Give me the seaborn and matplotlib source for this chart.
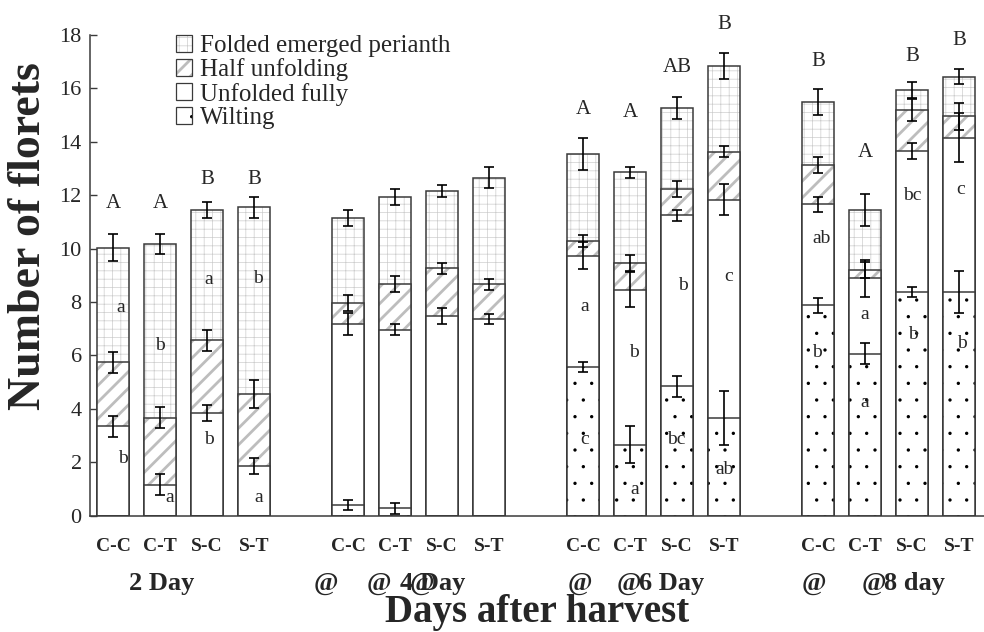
import matplotlib
matplotlib.use("Agg")
import matplotlib.pyplot as plt
from matplotlib.patches import Patch, Rectangle
import numpy as np
import pandas as pd
import seaborn as sns

treatments = ["C-C", "C-T", "S-C", "S-T"]
days = ["2 Day", "4 Day", "6 Day", "8 day"]

# segment heights (florets), bottom to top, bars ordered day by day
wilting = [0.0, 0.0, 0.0, 0.0, 0.40, 0.27, 0.0, 0.0,
           5.56, 2.66, 4.84, 3.66, 7.87, 6.06, 8.37, 8.37]
unfolded = [3.34, 1.16, 3.84, 1.87, 6.77, 6.69, 7.46, 7.36,
            4.18, 5.80, 6.40, 8.17, 3.79, 2.82, 5.29, 5.79]
half_unfolding = [2.40, 2.50, 2.72, 2.68, 0.78, 1.71, 1.80, 1.30,
                  0.53, 1.01, 1.00, 1.80, 1.48, 0.30, 1.53, 0.80]
folded = [4.30, 6.51, 4.89, 7.00, 3.20, 3.28, 2.90, 4.00,
          3.27, 3.38, 3.02, 3.21, 2.34, 2.27, 0.75, 1.48]

# error bars at the top of each segment
wilting_err = [0, 0, 0, 0, 0.20, 0.20, 0, 0,
               0.20, 0.71, 0.40, 1.00, 0.29, 0.39, 0.19, 0.80]
unfolded_err = [0.39, 0.40, 0.31, 0.30, 0.42, 0.20, 0.30, 0.20,
                0.50, 0.65, 0.19, 0.59, 0.29, 0.71, 0.30, 0.90]
half_err = [0.39, 0.40, 0.40, 0.51, 0.30, 0.30, 0.20, 0.20,
            0.22, 0.30, 0.30, 0.20, 0.30, 0.30, 0.40, 0.50]
folded_err = [0.50, 0.39, 0.31, 0.40, 0.31, 0.30, 0.21, 0.40,
              0.60, 0.20, 0.40, 0.50, 0.49, 0.60, 0.29, 0.29]

# significance letters above bars and their heights
top_letters = ["A", "A", "B", "B", "", "", "", "",
               "A", "A", "AB", "B", "B", "A", "B", "B"]
top_letter_y = [11.7, 11.7, 12.6, 12.6, 0, 0, 0, 0,
                15.2, 15.1, 16.8, 18.4, 17.0, 13.6, 17.2, 17.8]

# letters inside segments: (bar, letter, height, x shift)
inner_letters = [
    (0, "a", 7.78, 0.17), (0, "b", 2.13, 0.21),
    (1, "b", 6.36, 0.0), (1, "a", 0.67, 0.21),
    (2, "a", 8.83, 0.04), (2, "b", 2.84, 0.04),
    (3, "b", 8.87, 0.09), (3, "a", 0.67, 0.09),
    (8, "a", 7.83, 0.04), (8, "c", 2.84, 0.04),
    (9, "b", 6.10, 0.09), (9, "a", 0.97, 0.09),
    (10, "b", 8.61, 0.12), (10, "bc", 2.84, -0.01),
    (11, "c", 8.94, 0.10), (11, "ab", 1.72, 0.02),
    (12, "ab", 10.39, 0.08), (12, "b", 6.10, -0.02),
    (13, "a", 7.52, 0.0), (13, "a", 4.24, 0.0),
    (14, "bc", 11.98, 0.01), (14, "b", 6.77, 0.02),
    (15, "c", 12.20, 0.04), (15, "b", 6.44, 0.06),
]

sns.set_style("ticks")
plt.rcParams["font.family"] = ["Liberation Serif", "DejaVu Serif"]

df = pd.DataFrame({
    "day": np.repeat(days, 4),
    "treatment": treatments * 4,
    "pos": [g * 5 + i for g in range(4) for i in range(4)],
})
df["wilting_top"] = np.array(wilting)
df["unfolded_top"] = df["wilting_top"] + np.array(unfolded)
df["half_top"] = df["unfolded_top"] + np.array(half_unfolding)
df["folded_top"] = df["half_top"] + np.array(folded)

fig = plt.figure(figsize=(9.84, 6.32), dpi=100)
ax = fig.add_axes([0.0915, 0.1843, 0.9085, 0.7603])

edge = "#3a3a3a"
layers = [
    ("Folded emerged perianth", "folded_top", "++", "#cdcdcd", 0.5, folded_err),
    ("Half unfolding", "half_top", "//", "#bdbdbd", 2.0, half_err),
    ("Unfolded fully", "unfolded_top", "", "white", 0.5, unfolded_err),
    ("Wilting", "wilting_top", ".", "black", 0.0, wilting_err),
]
hatch_widths = {l[2]: l[4] for l in layers}


def set_hatch_width(patch, width):
    plt.rcParams["hatch.linewidth"] = width
    if hasattr(patch, "set_hatch_linewidth"):
        patch.set_hatch_linewidth(width)


handles = []
for label, col, hatch, hatch_color, hatch_lw, err in layers:
    plt.rcParams["hatch.linewidth"] = hatch_lw
    n0 = len(ax.patches)
    sns.barplot(data=df, x="pos", y=col, native_scale=True, width=0.68,
                color="white", saturation=1, edgecolor=hatch_color,
                linewidth=0, hatch=hatch, errorbar=None, ax=ax)
    for p in ax.patches[n0:]:
        set_hatch_width(p, hatch_lw)
    sns.barplot(data=df, x="pos", y=col, native_scale=True, width=0.68,
                color=edge, fill=False, linewidth=1.1, errorbar=None, ax=ax)
    handles.append((Patch(facecolor="white", edgecolor=hatch_color, hatch=hatch, linewidth=0),
                    Patch(facecolor="none", edgecolor=edge, linewidth=0.9)))

    err = np.array(err, dtype=float)
    keep = err > 0
    ax.errorbar(df["pos"][keep], df[col][keep], yerr=err[keep], fmt="none",
                ecolor="black", elinewidth=1.2, capsize=3.5, capthick=1.2, zorder=10)

# significance letters
for pos, letter, y in zip(df["pos"], top_letters, top_letter_y):
    if letter:
        ax.text(pos, y, letter, ha="center", va="center", fontsize=15, clip_on=False)
for bar, letter, y, dx in inner_letters:
    ax.text(df["pos"][bar] + dx, y, letter, ha="center", va="center", fontsize=14, zorder=11)

ax.set_xlim(-0.49, 18.53)
ax.set_ylim(0, 18)
ax.set_yticks(np.arange(0, 19, 2))
ax.tick_params(axis="y", direction="in", length=5, width=1, labelsize=16, pad=6, color=edge)
ax.set_xticks(df["pos"])
ax.set_xticklabels(df["treatment"], fontweight="bold", fontsize=14)
ax.tick_params(axis="x", length=0, pad=16)
ax.set_xlabel("")
ax.set_ylabel("")
sns.despine(ax=ax)
for s in ("left", "bottom"):
    ax.spines[s].set_color(edge)
    ax.spines[s].set_linewidth(1.1)

# day labels under each group (with the stray @ marks of the original)
xt = ax.get_xaxis_transform()
day_y = -0.154
ax.text(0.34, day_y, days[0], transform=xt, ha="left", va="baseline", fontsize=19, fontweight="bold")
for x in (4.53, 5.66, 6.57, 9.94, 10.98, 14.91, 16.19):
    ax.text(x, day_y, "@", transform=xt, ha="center", va="baseline", fontsize=19, fontweight="bold")
ax.text(6.11, day_y, days[1], transform=xt, ha="left", va="baseline", fontsize=19, fontweight="bold")
ax.text(11.19, day_y, days[2], transform=xt, ha="left", va="baseline", fontsize=19, fontweight="bold")
ax.text(16.40, day_y, days[3], transform=xt, ha="left", va="baseline", fontsize=19, fontweight="bold")

ax.text(0.5, -0.222, "Days after harvest", transform=ax.transAxes, ha="center", va="baseline",
        fontsize=28, fontweight="bold")
ax.text(-0.0683, 0.5806, "Number of florets", transform=ax.transAxes, rotation=90,
        ha="center", va="center", fontsize=33, fontweight="bold")

leg = ax.legend(handles=handles, labels=[l[0] for l in layers], loc="upper left",
                bbox_to_anchor=(0.096, 1.0), frameon=False, fontsize=18,
                handlelength=0.65, handleheight=0.65, handletextpad=0.3,
                labelspacing=0.05, borderaxespad=0, borderpad=0)
for r in leg.findobj(Rectangle):
    h = r.get_hatch()
    if h in hatch_widths:
        set_hatch_width(r, hatch_widths[h])
plt.rcParams["hatch.linewidth"] = 0.5

fig.savefig("out.png", dpi=100)
